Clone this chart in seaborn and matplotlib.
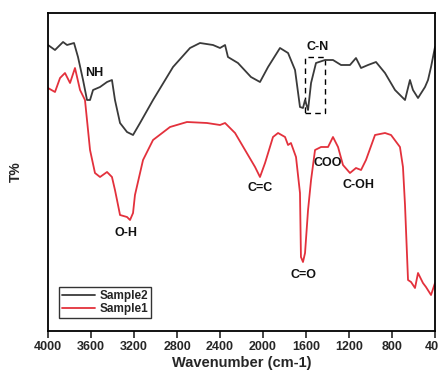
import numpy as np
import pandas as pd
import matplotlib
matplotlib.use("Agg")
import matplotlib.pyplot as plt
import seaborn as sns
from matplotlib.patches import Rectangle

sns.set_theme(style="white")
plt.rcParams['font.family'] = ['Liberation Sans', 'DejaVu Sans']

wn_s2 = [4000, 3935, 3860, 3823, 3758, 3721, 3674, 3637, 3609, 3581,
         3516, 3451, 3405, 3377, 3330, 3265, 3209, 3144, 3023, 2837,
         2679, 2586, 2465, 2400, 2353, 2326, 2233, 2112, 2028, 1953,
         1842, 1767, 1702, 1656, 1628, 1609, 1581, 1553, 1507, 1423,
         1349, 1274, 1191, 1135, 1088, 1023, 949, 865, 772, 679,
         633, 605, 558, 493, 465, 437, 400]
t_s2 = [286, 281, 289, 286, 288, 274, 251, 231, 231, 241,
        244, 249, 251, 231, 208, 199, 196, 208, 231, 264,
        283, 288, 286, 283, 286, 274, 268, 254, 249, 264,
        283, 278, 261, 224, 223, 231, 221, 248, 268, 271,
        271, 266, 266, 273, 263, 266, 269, 258, 241, 231,
        251, 241, 233, 244, 251, 264, 284]

wn_s1 = [4000, 3935, 3888, 3842, 3795, 3749, 3702, 3656, 3609, 3563,
         3516, 3451, 3405, 3377, 3358, 3330, 3265, 3237, 3209, 3191,
         3116, 3023, 2865, 2707, 2521, 2400, 2353, 2260, 2167, 2074,
         2028, 1981, 1907, 1860, 1795, 1767, 1740, 1693, 1656, 1647,
         1628, 1609, 1581, 1553, 1516, 1460, 1395, 1349, 1302, 1256,
         1191, 1135, 1088, 1042, 958, 865, 809, 726, 698, 679,
         651, 623, 586, 558, 512, 484, 437, 400]
t_s1 = [243, 239, 253, 258, 248, 263, 241, 231, 181, 158,
        154, 159, 154, 141, 131, 116, 114, 111, 118, 136,
        171, 191, 204, 209, 208, 206, 208, 198, 181, 164,
        154, 168, 194, 198, 194, 186, 188, 174, 138, 74,
        69, 78, 121, 151, 181, 184, 184, 194, 184, 166,
        158, 163, 161, 171, 196, 198, 196, 184, 164, 126,
        51, 49, 43, 58, 48, 44, 36, 48]

series_names = ["Sample2", "Sample1"]
colors = ["#3a3a3a", "#e3313c"]
x_ticks = [4000, 3600, 3200, 2800, 2400, 2000, 1600, 1200, 800, 400]

df = pd.concat([
    pd.DataFrame({"wn": wn_s2, "T": t_s2, "sample": "Sample2"}),
    pd.DataFrame({"wn": wn_s1, "T": t_s1, "sample": "Sample1"}),
])

fig = plt.figure(figsize=(4.38, 3.81), dpi=100)
ax = fig.add_axes([48/438, 50/381, 387/438, 318/381])
sns.lineplot(data=df, x="wn", y="T", hue="sample", hue_order=series_names,
             palette=colors, linewidth=1.3, ax=ax, estimator=None, sort=False)

ax.set_xlim(4000, 400)
ax.set_ylim(0, 318)
ax.set_xticks(x_ticks)
ax.set_xticklabels([str(v) for v in x_ticks], fontsize=9, fontweight='bold')
ax.set_yticks([])
ax.tick_params(axis='x', direction='out', length=5, width=1.2, bottom=True, pad=2)
for s in ax.spines.values():
    s.set_color('black')
    s.set_linewidth(1.3)
ax.set_xlabel("Wavenumber (cm-1)", fontsize=10.5, fontweight='bold', labelpad=2)
ax.set_ylabel("T%", fontsize=10, fontweight='bold', labelpad=18)

ann = dict(fontsize=9, fontweight='bold', color='#111111')
ax.text(3650, 258, "NH", ha='left', va='center', **ann)
ax.text(3270, 98, "O-H", ha='center', va='center', **ann)
ax.text(2030, 143, "C=C", ha='center', va='center', **ann)
ax.text(1620, 56, "C=O", ha='center', va='center', **ann)
ax.text(1400, 168, "COO", ha='center', va='center', **ann)
ax.text(1110, 146, "C-OH", ha='center', va='center', **ann)
ax.text(1490, 284, "C-N", ha='center', va='center', **ann)
ax.add_patch(Rectangle((1609, 218), 1423 - 1609, 274 - 218, fill=False,
                       edgecolor='black', linestyle=(0, (4, 3)), linewidth=1.0))

leg = ax.legend(loc='lower left', bbox_to_anchor=(0.028, 0.041), borderaxespad=0,
                frameon=True, fancybox=False, prop={'weight': 'bold', 'size': 8.5},
                handlelength=2.8, borderpad=0.25, labelspacing=0.1, handletextpad=0.4)
leg.get_frame().set_edgecolor('black')
leg.get_frame().set_linewidth(1.0)

fig.savefig("out.png", dpi=100)
